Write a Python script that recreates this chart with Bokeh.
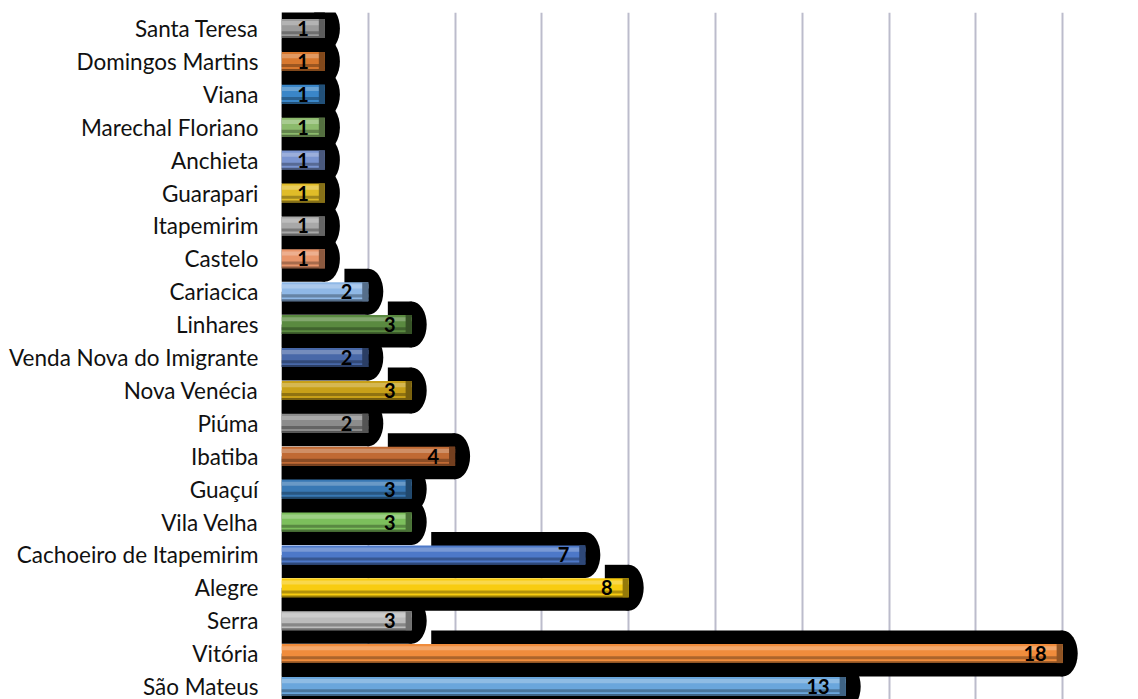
from bokeh.plotting import figure
from bokeh.models import Range1d, FixedTicker
from bokeh.core.properties import value
from bokeh.embed import file_html
from bokeh.resources import INLINE

# ---- data (top to bottom) ----
municipios = ["Santa Teresa", "Domingos Martins", "Viana", "Marechal Floriano", "Anchieta",
              "Guarapari", "Itapemirim", "Castelo", "Cariacica", "Linhares",
              "Venda Nova do Imigrante", "Nova Venécia", "Piúma", "Ibatiba", "Guaçuí",
              "Vila Velha", "Cachoeiro de Itapemirim", "Alegre", "Serra", "Vitória", "São Mateus"]
quantidades = [1, 1, 1, 1, 1, 1, 1, 1, 2, 3, 2, 3, 2, 4, 3, 3, 7, 8, 3, 18, 13]
cores = ["#9a9a9a", "#d8782e", "#3a86c8", "#8cba6c", "#7a94d0", "#e0bc28", "#a8a8a8",
         "#e8956a", "#8fb8e6", "#5a8a40", "#4868a8", "#c8a018", "#8c8c8c", "#c06a34",
         "#3878b4", "#7cbf5c", "#4d78c8", "#f8cc10", "#bcbcbc", "#f08c3c", "#6aa6dc"]
grade_x = [2, 4, 6, 8, 10, 12, 14, 16, 18]

W, H = 1138, 699
PX_X = 43.4    # px per unit
PX_Y = 32.9    # px per row
LEFT = 281
TOP = 12
FIRST_ROW = 28

ys = [-i for i in range(len(municipios))]


def shade(hexc, f):
    r, g, b = int(hexc[1:3], 16), int(hexc[3:5], 16), int(hexc[5:7], 16)
    if f < 1:
        r, g, b = int(r * f), int(g * f), int(b * f)
    else:
        t = f - 1
        r, g, b = int(r + (255 - r) * t), int(g + (255 - g) * t), int(b + (255 - b) * t)
    return "#%02x%02x%02x" % (r, g, b)


p = figure(width=W, height=H, output_backend="svg", toolbar_location=None,
           x_range=Range1d(0, (W - LEFT) / PX_X),
           y_range=Range1d(-(H - FIRST_ROW) / PX_Y, (FIRST_ROW - TOP) / PX_Y),
           min_border_left=LEFT, min_border_right=0, min_border_top=TOP, min_border_bottom=0)
p.outline_line_color = None
p.xaxis.visible = False
p.ygrid.grid_line_color = None
p.xgrid.ticker = FixedTicker(ticks=grade_x)
p.xgrid.grid_line_color = "#bcbccc"
p.xgrid.grid_line_width = 2

ax = p.yaxis[0]
ax.ticker = FixedTicker(ticks=ys)
ax.major_label_overrides = {y: n for y, n in zip(ys, municipios)}
ax.major_tick_line_color = None
ax.minor_tick_line_color = None
ax.axis_line_color = None
ax.major_label_standoff = 17
ax.major_label_text_font = "Lato"
ax.major_label_text_font_size = "22.5px"
ax.major_label_text_color = "#111111"

# ---- black glow behind bars ----
gh = 23 / PX_Y
cap_w = 2 * 15 / PX_X
lo_l, lo_r, lo_t, lo_b = [], [], [], []
up_l, up_r, up_t, up_b = [], [], [], []
for i, (v, y) in enumerate(zip(quantidades, ys)):
    lo_l.append(0); lo_r.append(v); lo_t.append(y); lo_b.append(y - gh)
    prev = quantidades[i - 1] if i > 0 else None
    start = prev + 0.45 if (prev is not None and prev < v) else 0
    up_l.append(start); up_r.append(v); up_t.append(y + gh); up_b.append(y)
p.quad(left=lo_l, right=lo_r, top=lo_t, bottom=lo_b, fill_color="black", line_color=None)
p.quad(left=up_l, right=up_r, top=up_t, bottom=up_b, fill_color="black", line_color=None)
p.ellipse(x=quantidades, y=ys, width=cap_w, height=2 * gh, fill_color="black", line_color=None)

# ---- coloured bars with simple bevel ----
bh = 19 / PX_Y
p.hbar(y=ys, left=0, right=quantidades, height=bh, fill_color=cores, line_color=None)
p.hbar(y=[y + bh * 0.28 for y in ys], left=0, right=quantidades, height=bh * 0.22,
       fill_color=[shade(c, 1.25) for c in cores], line_color=None)
p.hbar(y=[y - bh * 0.22 for y in ys], left=0, right=quantidades, height=bh * 0.16,
       fill_color=[shade(c, 0.72) for c in cores], line_color=None)
p.hbar(y=[y - bh * 0.45 for y in ys], left=0, right=quantidades, height=bh * 0.1,
       fill_color=[shade(c, 0.6) for c in cores], line_color=None)
p.quad(left=[v - 0.14 for v in quantidades], right=quantidades,
       top=[y + bh / 2 for y in ys], bottom=[y - bh / 2 for y in ys],
       fill_color=[shade(c, 0.6) for c in cores], line_color=None)

# ---- value labels ----
p.text(x=quantidades, y=ys, text=[str(v) for v in quantidades], x_offset=-16,
       text_align="right", text_baseline="middle", text_font=value("Lato"),
       text_font_style="bold", text_font_size="20px", text_color="#000000")

open("out.html", "w").write(file_html(p, INLINE))
